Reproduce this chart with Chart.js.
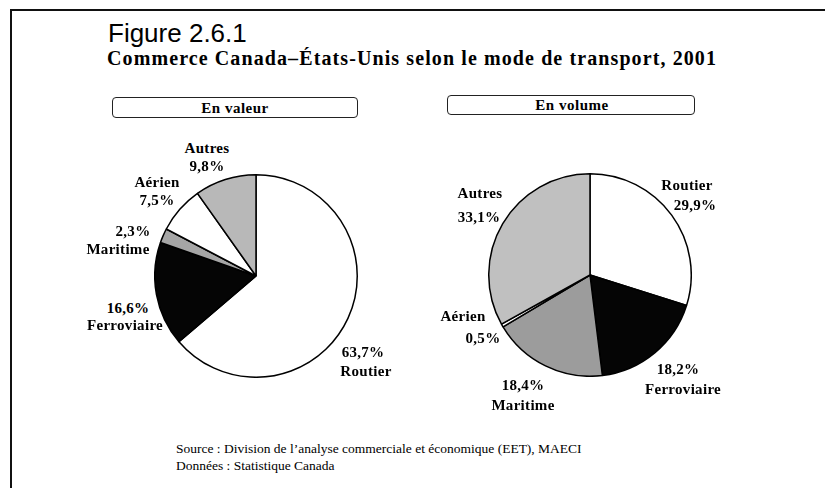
<!DOCTYPE html>
<html>
<head>
<meta charset="utf-8">
<script src="https://cdn.jsdelivr.net/npm/chart.js@4"></script>
<style>
  body { margin: 0; background: #fff; }
  #page { position: relative; width: 825px; height: 488px; overflow: hidden; background: #fff; }
  .abs { position: absolute; white-space: nowrap; }
  .ctr { transform: translate(-50%, -50%); line-height: 1; }
  .lbl { font: bold 15px "Liberation Serif", "Times New Roman", serif; letter-spacing: 0.3px; color: #000; }
  .box { position: absolute; border: 1.5px solid #222; border-radius: 4px; box-sizing: border-box; }
  .boxtxt { font: bold 15px "Liberation Serif", serif; letter-spacing: 0.5px; }
  .src { font: 13.5px "Liberation Serif", serif; line-height: 1; transform: translateY(-50%); }
</style>
</head>
<body>
<div id="page">
  <div class="abs" style="left:10px;top:9px;width:815px;height:2px;background:#111"></div>
  <div class="abs" style="left:10px;top:9px;width:2px;height:479px;background:#111"></div>

  <div class="abs" style="left:108px;top:33px;font:26px 'Liberation Sans',Arial,sans-serif;line-height:1;transform:translateY(-50%)">Figure 2.6.1</div>
  <div class="abs" id="title" style="left:107px;top:58px;font:bold 20px 'Liberation Serif',serif;letter-spacing:1.1px;line-height:1;transform:translateY(-50%)">Commerce Canada–États-Unis selon le mode de transport, 2001</div>

  <div class="box" style="left:112px;top:97px;width:246px;height:21px"></div>
  <div class="abs ctr boxtxt" style="left:235px;top:108px">En valeur</div>
  <div class="box" style="left:447px;top:95px;width:248px;height:20px"></div>
  <div class="abs ctr boxtxt" style="left:572px;top:105px">En volume</div>

  <canvas id="pieValue" class="abs" style="left:154px;top:174px"></canvas>
  <canvas id="pieVolume" class="abs" style="left:488px;top:173px"></canvas>

  <div class="abs src" style="left:176px;top:449px">Source : Division de l’analyse commerciale et économique (EET), MAECI</div>
  <div class="abs src" style="left:176px;top:466px">Données : Statistique Canada</div>
</div>
<script>
// data, clockwise from 12 o'clock
const modes = ["Routier", "Ferroviaire", "Maritime", "Aérien", "Autres"];
const valueShares = [63.7, 16.6, 2.3, 7.5, 9.8];
const volumeShares = [29.9, 18.2, 18.4, 0.5, 33.1];

// styles
const valueColors = ["#ffffff", "#050505", "#a6a6a6", "#ffffff", "#b8b8b8"];
const volumeColors = ["#ffffff", "#050505", "#9c9c9c", "#ffffff", "#c0c0c0"];

// label placement: [first line, cx, cy, second line, cx, cy]; "n" = name, "v" = value
const valueLabelPos = [
  ["v", 363, 352, "n", 366, 371],
  ["v", 128, 308, "n", 125, 325],
  ["v", 133, 231, "n", 118, 249],
  ["n", 157, 182, "v", 157, 200],
  ["n", 207, 148, "v", 207, 166],
];
const volumeLabelPos = [
  ["n", 687, 185, "v", 695, 205],
  ["v", 678, 369, "n", 683, 389],
  ["v", 523, 385, "n", 523, 405],
  ["n", 463, 316, "v", 483, 338],
  ["n", 480, 193, "v", 479, 217],
];

function pct(v) {
  return v.toFixed(1).replace(".", ",") + "%";
}

function buildPie(id, data, colors) {
  const el = document.getElementById(id);
  el.width = 204;
  el.height = 204;
  return new Chart(el, {
    type: "pie",
    data: {
      labels: modes,
      datasets: [{ data, backgroundColor: colors, borderColor: "#000", borderWidth: 1.5 }],
    },
    options: {
      responsive: false,
      animation: false,
      events: [],
      layout: { padding: 0 },
      plugins: { legend: { display: false }, tooltip: { enabled: false } },
    },
  });
}

function addLabels(data, pos) {
  const page = document.getElementById("page");
  pos.forEach((p, i) => {
    for (let k = 0; k < 2; k++) {
      const kind = p[k * 3], x = p[k * 3 + 1], y = p[k * 3 + 2];
      const d = document.createElement("div");
      d.className = "abs ctr lbl";
      d.style.left = x + "px";
      d.style.top = y + "px";
      d.textContent = kind === "n" ? modes[i] : pct(data[i]);
      page.appendChild(d);
    }
  });
}

buildPie("pieValue", valueShares, valueColors);
buildPie("pieVolume", volumeShares, volumeColors);
addLabels(valueShares, valueLabelPos);
addLabels(volumeShares, volumeLabelPos);
</script>
</body>
</html>
